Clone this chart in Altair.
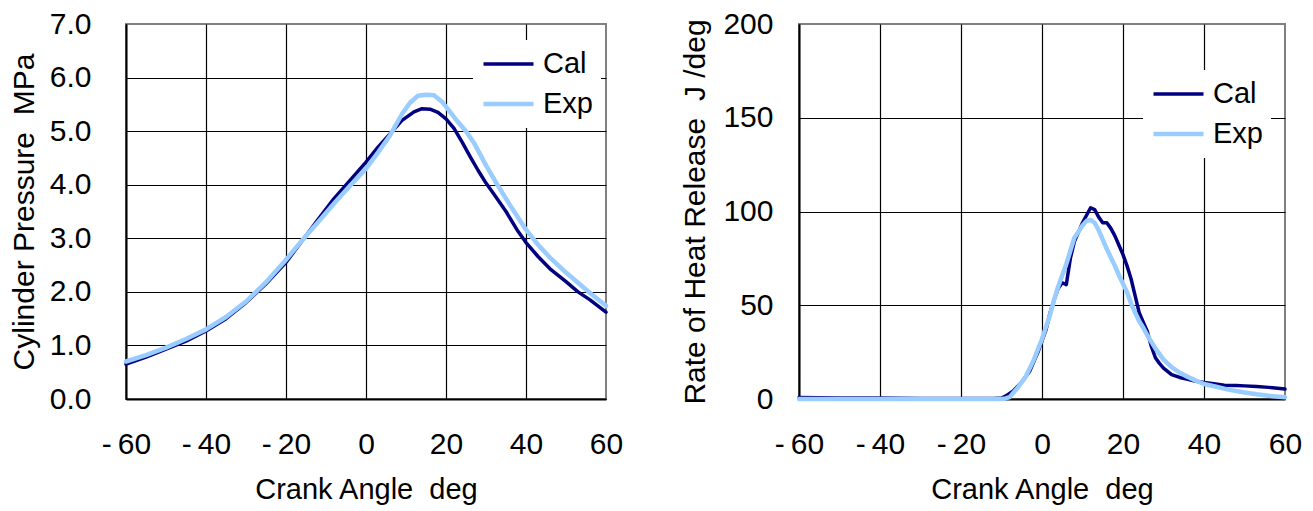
import altair as alt
import pandas as pd

# ---------------- data ----------------
# Cylinder pressure, MPa
p_cal_x = [-60, -55, -50, -45, -40, -35, -30, -25, -20, -16, -12, -8, -4, 0, 3, 6, 9, 12, 14, 16, 18, 20,
           22, 24, 26, 28, 30, 32, 35, 38, 40, 43, 46, 50, 53, 56, 60]
p_cal_y = [0.65, 0.78, 0.93, 1.08, 1.27, 1.50, 1.80, 2.15, 2.55, 2.95, 3.35, 3.74, 4.08, 4.42, 4.70, 4.95, 5.20,
           5.36, 5.42, 5.41, 5.35, 5.23, 5.05, 4.80, 4.53, 4.27, 4.03, 3.82, 3.50, 3.13, 2.92, 2.66, 2.43, 2.19,
           2.00, 1.85, 1.62]
p_exp_x = [-60, -55, -50, -45, -40, -35, -30, -25, -20, -16, -12, -8, -4, 0, 3, 6, 9, 11, 13, 15, 17, 19,
           21, 23, 25, 27, 30, 33, 36, 40, 43, 46, 50, 53, 56, 60]
p_exp_y = [0.70, 0.82, 0.96, 1.12, 1.30, 1.53, 1.82, 2.18, 2.60, 2.96, 3.30, 3.65, 3.98, 4.30, 4.60, 4.92, 5.32,
           5.53, 5.66, 5.68, 5.67, 5.55, 5.36, 5.17, 5.00, 4.78, 4.36, 3.98, 3.62, 3.16, 2.88, 2.64, 2.36,
           2.17, 1.98, 1.74]

# Rate of heat release, J/deg
h_cal_x = [-60, -50, -40, -30, -20, -12, -10, -9, -7, -5, -3, -1, 0, 1, 2, 3, 4, 5, 6, 6.5, 7, 8, 9, 10,
           11, 12, 13, 14, 15, 16, 17, 18, 19, 20, 21, 22, 23, 24, 25, 26, 27, 28, 29, 30, 32, 34, 36, 38,
           40, 42, 45, 48, 50, 53, 56, 60]
h_cal_y = [0.8, 0.5, 0.5, 0.3, 0.3, 0.3, 0.5, 1.5, 4.5, 9, 15, 25, 31, 37, 46, 53, 59, 62, 61, 68, 75, 84,
           89, 94, 98, 102, 101, 97, 94, 94, 91, 87, 82, 77, 71, 64, 55, 46, 41, 36, 28, 22, 19, 16.5, 13,
           11.5, 10.5, 9.5, 8.8, 8.3, 7.3, 7.2, 7.0, 6.7, 6.2, 5.3]
h_exp_x = [-60, -40, -20, -10, -9, -8, -6, -4, -2, 0, 2, 3, 4, 6, 8, 10, 11, 12, 13, 14, 15, 16, 17, 18,
           19, 20, 21, 22, 23, 24, 25, 26, 28, 30, 32, 34, 36, 38, 40, 43, 46, 50, 53, 56, 60]
h_exp_y = [0, 0, 0, 0, 0.3, 1, 6, 12, 21, 32, 45, 53, 60, 72, 86, 92.5, 95, 95.5, 94, 90, 85, 80, 75.5,
           71, 66, 61.5, 57, 51, 46, 41.5, 38, 34, 27, 21, 17, 14, 11.8, 9.8, 8, 6.5, 5, 3.5, 2.5, 1.7, 0.9]

series_names = ["Cal", "Exp"]
x_ticks = [-60, -40, -20, 0, 20, 40, 60]
p_ticks = [0, 1, 2, 3, 4, 5, 6, 7]
h_ticks = [0, 50, 100, 150, 200]

NAVY = "#000080"
LIGHT = "#99CCFF"
FONT = "Liberation Sans"
TICK_FONT = "Liberation Sans Narrow, Liberation Sans"


def long_df(xc, yc, xe, ye):
    a = pd.DataFrame({"angle": xc, "value": yc, "series": "Cal", "k": range(len(xc))})
    b = pd.DataFrame({"angle": xe, "value": ye, "series": "Exp", "k": range(len(xe))})
    return pd.concat([a, b], ignore_index=True)


p_df = long_df(p_cal_x, p_cal_y, p_exp_x, p_exp_y)
h_df = long_df(h_cal_x, h_cal_y, h_exp_x, h_exp_y)

x_label_expr = "datum.value < 0 ? '-\u2009' + abs(datum.value) : datum.label"


def x_axis():
    return alt.Axis(values=x_ticks, title="Crank Angle\u00a0\u00a0deg", grid=True, gridColor="black",
                    gridWidth=1.2,
                    gridOpacity={"condition": {"test": "datum.value >= 60", "value": 0}, "value": 1},
                    ticks=False, domainColor="black", domainWidth=2, labelExpr=x_label_expr,
                    labelFontSize=30, labelFont=TICK_FONT, labelColor="black", labelPadding=30,
                    titleFontSize=29, titleFont=FONT, titleFontWeight="normal", titleColor="black",
                    titlePadding=16, labelFlush=False)


def panel(df, y_title, y_ticks, y_max, y_fmt, label_pad, title_pad, leg_x, leg_y, width):
    color = alt.Color(
        "series:N",
        scale=alt.Scale(domain=series_names, range=[NAVY, LIGHT]),
        legend=alt.Legend(title=None, orient="none", legendX=leg_x, legendY=leg_y, fillColor="white",
                          symbolType="stroke", symbolSize=2500, symbolStrokeWidth=4,
                          labelFontSize=29, labelFont=FONT, labelColor="black", padding=8,
                          rowPadding=8, clipHeight=32, labelOffset=7),
    )
    return (
        alt.Chart(df)
        .mark_line(strokeCap="round", strokeJoin="round")
        .encode(
            x=alt.X("angle:Q", scale=alt.Scale(domain=[-60, 60], nice=False), axis=x_axis()),
            y=alt.Y("value:Q", scale=alt.Scale(domain=[0, y_max], nice=False),
                    axis=alt.Axis(values=y_ticks, format=y_fmt, title=y_title, grid=True,
                                  gridColor="black", gridWidth=1.2,
                                  gridOpacity={"condition": {"test": f"datum.value >= {y_max}", "value": 0},
                                               "value": 1},
                                  ticks=False, domainColor="black", domainWidth=2,
                                  labelFontSize=30, labelFont=TICK_FONT, labelColor="black",
                                  labelPadding=label_pad, titleFontSize=30, titleFont=FONT,
                                  titleFontWeight="normal", titleColor="black", titlePadding=title_pad)),
            color=color,
            strokeWidth=alt.StrokeWidth("series:N", scale=alt.Scale(domain=series_names, range=[3.5, 4.5]),
                                        legend=None),
            order="k:Q",
        )
        .properties(width=width, height=375)
    )


left = panel(p_df, "Cylinder Pressure\u00a0\u00a0MPa", p_ticks, 7, ".1f", 35, 10, 347, 16, 480)
right = panel(h_df, "Rate of Heat Release\u00a0\u00a0J /deg", h_ticks, 200, "d", 26, 12, 344, 46, 486)

chart = (
    alt.hconcat(left, right, spacing=55)
    .resolve_scale(color="independent", strokeWidth="independent")
    .resolve_legend(color="independent")
    .properties(padding={"left": 0, "top": 0, "right": 0, "bottom": 0}, background="white")
    .configure_view(stroke="#808080", strokeWidth=2)
)

chart.save("out.html", embed_options={"renderer": "svg", "actions": False})
